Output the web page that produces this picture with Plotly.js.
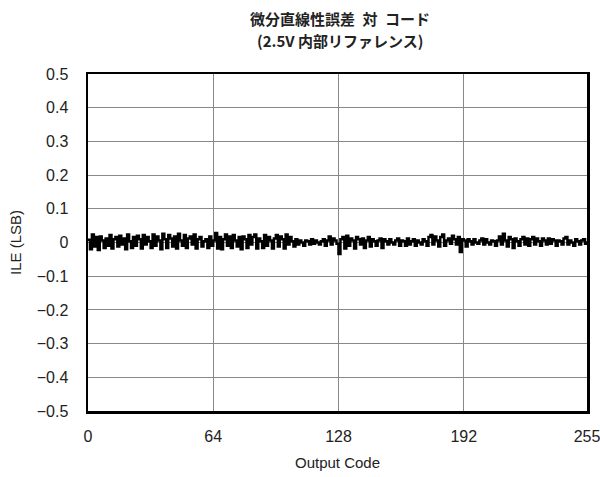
<!DOCTYPE html>
<html>
<head>
<meta charset="utf-8">
<script src="https://cdn.plot.ly/plotly-3.0.1.min.js"></script>
<style>html,body{margin:0;padding:0;background:#fff;}#chart{width:600px;height:477px;}</style>
</head>
<body>
<div id="chart"></div>
<script>
const codes = Array.from({length: 256}, (_, i) => i);
const ileValues = [
 0.008,-0.020,0.024,-0.012,0.016,-0.022,0.018,0.006,-0.016,0.012,-0.010,0.022,-0.018,0.010,0.016,-0.012,
 0.020,-0.006,0.012,-0.020,0.024,0.004,-0.016,0.016,-0.010,0.020,0.010,-0.018,0.022,-0.006,0.016,0.004,
 -0.016,0.024,-0.010,0.018,0.006,-0.020,0.026,0.010,-0.016,0.022,0.012,-0.012,0.018,-0.018,0.026,0.006,
 -0.010,0.022,-0.016,0.012,0.018,-0.006,0.024,-0.018,0.010,0.016,-0.012,0.004,0.010,-0.016,0.018,-0.010,
 0.006,0.028,-0.018,0.016,-0.020,0.010,0.024,-0.010,0.018,-0.016,0.022,0.006,-0.012,0.016,-0.020,0.018,
 0.010,-0.016,0.022,-0.006,0.016,0.024,-0.018,0.012,0.004,-0.016,0.022,-0.010,0.016,0.006,-0.018,0.012,
 0.022,-0.012,0.018,0.010,-0.018,0.024,-0.006,0.016,0.004,-0.012,0.010,-0.006,0.006,0.000,-0.010,0.006,
 0.004,-0.006,0.010,-0.004,0.006,0.000,-0.006,0.004,0.010,-0.010,0.006,0.018,-0.006,0.012,0.006,-0.004,
 -0.034,0.010,0.016,-0.018,0.020,-0.010,0.012,0.006,-0.018,0.016,0.010,-0.006,0.012,-0.016,0.006,0.016,
 -0.012,0.010,0.004,-0.010,0.006,0.012,-0.016,0.010,0.004,-0.006,0.010,0.000,-0.006,0.006,0.012,-0.010,
 0.006,0.004,-0.010,0.012,-0.006,0.004,0.010,-0.010,0.006,0.000,-0.006,0.010,0.004,-0.010,0.016,0.022,
 -0.006,0.018,0.006,-0.012,0.016,0.024,-0.010,0.006,0.012,-0.004,0.020,0.010,-0.006,0.016,-0.028,0.010,
 0.006,-0.012,0.010,0.004,-0.006,0.010,0.000,-0.004,0.006,0.012,-0.006,0.010,0.000,-0.006,0.006,0.004,
 -0.010,0.006,0.018,-0.006,0.026,0.006,-0.012,0.016,0.010,-0.016,0.012,0.004,-0.010,0.010,0.016,-0.006,
 0.012,-0.010,0.010,0.016,-0.006,0.012,0.004,-0.010,0.012,0.006,-0.006,0.012,-0.004,0.010,0.006,-0.010,
 0.006,0.004,-0.006,0.012,0.016,-0.006,0.006,0.000,-0.010,0.010,0.004,-0.006,0.006,0.010,-0.004,0.004
];
const xTickVals = [0, 64, 128, 192, 255];
const xTickText = ['0', '64', '128', '192', '255'];
const yTickVals = [0.5, 0.4, 0.3, 0.2, 0.1, 0, -0.1, -0.2, -0.3, -0.4, -0.5];
const yTickText = ['0.5', '0.4', '0.3', '0.2', '0.1', '0', '\u22120.1', '\u22120.2', '\u22120.3', '\u22120.4', '\u22120.5'];
const titleLines = ['微分直線性誤差\u2002対\u2002コード', '(2.5V 内部リファレンス)'];

const trace = {
  x: codes, y: ileValues, type: 'scatter', mode: 'lines',
  line: {color: '#000', width: 2.5, shape: 'hv'}, hoverinfo: 'skip', showlegend: false
};
const font = {family: 'Liberation Sans, Arial, sans-serif', size: 16, color: '#222'};
const titleFont = {family: 'Noto Sans CJK JP, sans-serif', size: 15, color: '#222', weight: 'bold'};
const layout = {
  width: 600, height: 477,
  margin: {l: 88, r: 13, t: 74, b: 66},
  paper_bgcolor: '#fff', plot_bgcolor: '#fff',
  font: font,
  annotations: [
    {text: titleLines[0], xref: 'paper', yref: 'paper', x: 0.505, y: 1 + (74 - 18) / 337,
     xanchor: 'center', yanchor: 'middle', showarrow: false, font: titleFont},
    {text: titleLines[1], xref: 'paper', yref: 'paper', x: 0.505, y: 1 + (74 - 40) / 337,
     xanchor: 'center', yanchor: 'middle', showarrow: false, font: titleFont}
  ],
  xaxis: {
    range: [0, 255], tickvals: xTickVals, ticktext: xTickText,
    showgrid: true, gridcolor: '#888', gridwidth: 1,
    showline: true, linecolor: '#000', linewidth: 2.5, mirror: true,
    ticks: '', zeroline: false, ticklabelstandoff: 9, ticklabeloverflow: 'allow',
    title: {text: 'Output Code', font: {family: font.family, size: 15, color: '#222'}, standoff: 14}
  },
  yaxis: {
    range: [-0.5, 0.5], tickvals: yTickVals, ticktext: yTickText,
    showgrid: true, gridcolor: '#888', gridwidth: 1,
    showline: true, linecolor: '#000', linewidth: 2.5, mirror: true,
    ticks: '', zeroline: false, ticklabelstandoff: 14,
    title: {text: 'ILE (LSB)', font: {family: font.family, size: 15, color: '#222'}, standoff: 12}
  }
};
Plotly.newPlot('chart', [trace], layout, {staticPlot: true, displayModeBar: false});
</script>
</body>
</html>
